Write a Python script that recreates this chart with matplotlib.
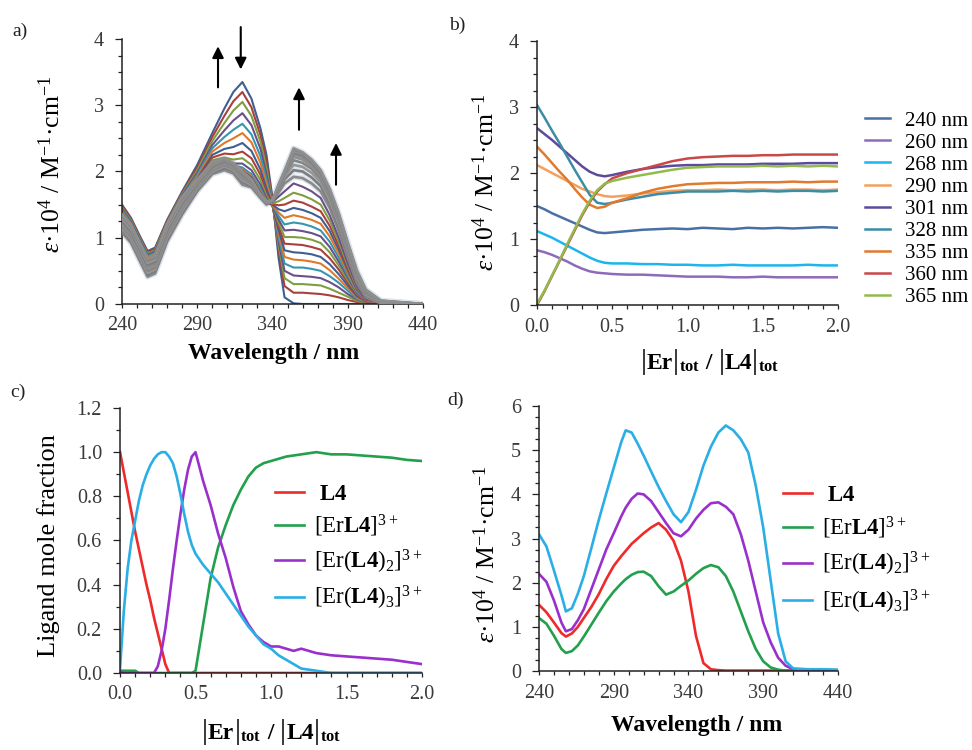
import numpy as np
import matplotlib
matplotlib.use('Agg')
import matplotlib.pyplot as plt
from matplotlib.ticker import MultipleLocator, FormatStrFormatter
from matplotlib.offsetbox import TextArea, HPacker, AnchoredOffsetbox

plt.rcParams['font.family'] = ['Liberation Serif', 'DejaVu Serif']
plt.rcParams['mathtext.fontset'] = 'custom'
plt.rcParams['mathtext.rm'] = 'Liberation Serif'
plt.rcParams['mathtext.it'] = 'Liberation Serif:italic'
plt.rcParams['mathtext.bf'] = 'Liberation Serif:bold'

# ---------------- panel a : titration spectra ----------------
wl_a = [240, 246, 252, 257, 262, 270, 280, 290, 300, 308, 314, 320, 326, 332, 336,
        340, 344, 348, 354, 360, 366, 372, 378, 384, 390, 396, 402, 412, 440]
# rows = wavelengths, columns = successive spectra (first 16 coloured)
eps_a_coloured = [
    [1.50, 1.48, 1.45, 1.43, 1.41, 1.38, 1.36, 1.34, 1.31, 1.29, 1.27, 1.24, 1.22, 1.20, 1.18, 1.16],
    [1.30, 1.28, 1.26, 1.24, 1.22, 1.20, 1.18, 1.16, 1.14, 1.12, 1.10, 1.08, 1.06, 1.04, 1.02, 1.00],
    [1.02, 1.00, 0.98, 0.96, 0.94, 0.92, 0.90, 0.88, 0.86, 0.84, 0.82, 0.80, 0.78, 0.76, 0.74, 0.72],
    [0.80, 0.78, 0.76, 0.74, 0.72, 0.70, 0.68, 0.66, 0.64, 0.62, 0.60, 0.58, 0.56, 0.54, 0.52, 0.50],
    [0.85, 0.83, 0.81, 0.79, 0.77, 0.75, 0.73, 0.71, 0.69, 0.67, 0.65, 0.63, 0.61, 0.59, 0.57, 0.55],
    [1.27, 1.25, 1.23, 1.21, 1.19, 1.17, 1.15, 1.13, 1.11, 1.09, 1.07, 1.05, 1.04, 1.03, 1.02, 1.01],
    [1.70, 1.68, 1.66, 1.64, 1.62, 1.60, 1.58, 1.56, 1.54, 1.52, 1.50, 1.48, 1.46, 1.44, 1.42, 1.40],
    [2.10, 2.06, 2.02, 1.98, 1.95, 1.92, 1.89, 1.86, 1.83, 1.80, 1.78, 1.76, 1.74, 1.72, 1.71, 1.70],
    [2.58, 2.52, 2.46, 2.40, 2.35, 2.30, 2.25, 2.21, 2.17, 2.14, 2.11, 2.09, 2.07, 2.05, 2.04, 2.03],
    [2.95, 2.84, 2.73, 2.62, 2.52, 2.43, 2.34, 2.27, 2.21, 2.17, 2.14, 2.12, 2.11, 2.10, 2.10, 2.10],
    [3.20, 3.06, 2.92, 2.77, 2.63, 2.50, 2.37, 2.26, 2.18, 2.12, 2.09, 2.07, 2.06, 2.06, 2.05, 2.05],
    [3.35, 3.20, 3.05, 2.88, 2.72, 2.58, 2.43, 2.30, 2.20, 2.12, 2.06, 2.03, 2.01, 2.00, 1.99, 1.98],
    [3.10, 2.97, 2.84, 2.70, 2.56, 2.44, 2.31, 2.20, 2.10, 2.02, 1.96, 1.93, 1.91, 1.90, 1.90, 1.90],
    [2.65, 2.55, 2.45, 2.34, 2.23, 2.13, 2.03, 1.95, 1.87, 1.80, 1.74, 1.70, 1.68, 1.67, 1.66, 1.66],
    [2.25, 2.15, 2.05, 1.96, 1.88, 1.81, 1.74, 1.68, 1.63, 1.59, 1.56, 1.54, 1.53, 1.53, 1.53, 1.54],
    [1.60, 1.56, 1.53, 1.51, 1.50, 1.49, 1.48, 1.48, 1.48, 1.48, 1.49, 1.49, 1.50, 1.51, 1.52, 1.54],
    [0.70, 0.82, 0.89, 0.95, 1.01, 1.07, 1.12, 1.18, 1.23, 1.28, 1.33, 1.38, 1.43, 1.49, 1.55, 1.62],
    [0.10, 0.27, 0.39, 0.50, 0.61, 0.71, 0.81, 0.91, 1.01, 1.11, 1.20, 1.30, 1.40, 1.50, 1.60, 1.70],
    [0.01, 0.17, 0.30, 0.43, 0.55, 0.67, 0.78, 0.90, 1.01, 1.12, 1.23, 1.34, 1.45, 1.56, 1.68, 1.82],
    [0.00, 0.17, 0.30, 0.42, 0.55, 0.66, 0.77, 0.89, 1.00, 1.10, 1.21, 1.31, 1.42, 1.53, 1.64, 1.77],
    [0.00, 0.16, 0.29, 0.41, 0.53, 0.64, 0.75, 0.86, 0.97, 1.07, 1.17, 1.27, 1.37, 1.47, 1.58, 1.70],
    [0.00, 0.15, 0.28, 0.39, 0.50, 0.61, 0.71, 0.82, 0.92, 1.02, 1.11, 1.21, 1.30, 1.40, 1.50, 1.60],
    [0.00, 0.13, 0.23, 0.33, 0.42, 0.51, 0.60, 0.69, 0.78, 0.86, 0.94, 1.02, 1.10, 1.18, 1.26, 1.34],
    [0.00, 0.10, 0.17, 0.25, 0.32, 0.38, 0.45, 0.52, 0.58, 0.64, 0.70, 0.76, 0.82, 0.88, 0.94, 1.00],
    [0.00, 0.06, 0.11, 0.15, 0.20, 0.24, 0.28, 0.32, 0.36, 0.40, 0.43, 0.47, 0.51, 0.54, 0.58, 0.62],
    [0.00, 0.03, 0.05, 0.07, 0.08, 0.10, 0.12, 0.14, 0.16, 0.17, 0.19, 0.20, 0.22, 0.24, 0.25, 0.27],
    [0.00, 0.01, 0.01, 0.02, 0.03, 0.03, 0.04, 0.04, 0.05, 0.05, 0.06, 0.06, 0.07, 0.07, 0.08, 0.08],
    [0.00, 0.00, 0.00, 0.00, 0.00, 0.01, 0.01, 0.01, 0.01, 0.01, 0.01, 0.01, 0.02, 0.02, 0.02, 0.02],
    [0.00, 0.00, 0.00, 0.00, 0.00, 0.00, 0.00, 0.00, 0.00, 0.00, 0.00, 0.00, 0.00, 0.00, 0.00, 0.00],
]
# rows = wavelengths, columns = later spectra (grey band)
eps_a_grey = [
    [1.08, 1.11, 1.14, 1.17, 1.20, 1.23, 1.26, 1.29, 1.32, 1.35],
    [0.92, 0.95, 0.98, 1.01, 1.04, 1.07, 1.10, 1.13, 1.16, 1.19],
    [0.64, 0.67, 0.70, 0.73, 0.76, 0.79, 0.82, 0.85, 0.88, 0.91],
    [0.41, 0.44, 0.47, 0.50, 0.53, 0.56, 0.59, 0.62, 0.65, 0.68],
    [0.46, 0.49, 0.52, 0.55, 0.58, 0.61, 0.64, 0.67, 0.70, 0.73],
    [0.94, 0.97, 1.00, 1.03, 1.06, 1.09, 1.12, 1.15, 1.18, 1.21],
    [1.35, 1.38, 1.41, 1.44, 1.47, 1.50, 1.53, 1.56, 1.59, 1.62],
    [1.70, 1.72, 1.74, 1.76, 1.78, 1.80, 1.82, 1.84, 1.86, 1.88],
    [1.96, 1.98, 2.00, 2.02, 2.04, 2.06, 2.08, 2.10, 2.12, 2.14],
    [2.02, 2.05, 2.08, 2.10, 2.12, 2.14, 2.16, 2.18, 2.19, 2.20],
    [1.97, 2.00, 2.02, 2.04, 2.06, 2.08, 2.10, 2.11, 2.12, 2.13],
    [1.80, 1.84, 1.87, 1.90, 1.92, 1.94, 1.96, 1.98, 1.99, 2.00],
    [1.76, 1.78, 1.80, 1.82, 1.83, 1.84, 1.85, 1.86, 1.87, 1.88],
    [1.60, 1.61, 1.62, 1.62, 1.63, 1.63, 1.64, 1.64, 1.65, 1.65],
    [1.50, 1.51, 1.52, 1.52, 1.53, 1.53, 1.54, 1.54, 1.55, 1.55],
    [1.56, 1.56, 1.56, 1.56, 1.56, 1.56, 1.56, 1.56, 1.56, 1.56],
    [1.68, 1.72, 1.74, 1.76, 1.77, 1.78, 1.78, 1.79, 1.79, 1.80],
    [1.82, 1.88, 1.92, 1.95, 1.97, 1.98, 1.99, 2.00, 2.00, 2.01],
    [1.92, 2.02, 2.10, 2.17, 2.22, 2.26, 2.29, 2.31, 2.33, 2.35],
    [1.90, 2.00, 2.07, 2.13, 2.18, 2.22, 2.25, 2.27, 2.28, 2.29],
    [1.82, 1.91, 1.98, 2.04, 2.08, 2.12, 2.14, 2.16, 2.17, 2.18],
    [1.70, 1.78, 1.84, 1.89, 1.93, 1.96, 1.98, 2.00, 2.01, 2.02],
    [1.45, 1.52, 1.57, 1.62, 1.65, 1.68, 1.70, 1.72, 1.73, 1.74],
    [1.10, 1.16, 1.21, 1.25, 1.28, 1.31, 1.33, 1.35, 1.36, 1.37],
    [0.70, 0.75, 0.79, 0.82, 0.85, 0.88, 0.90, 0.91, 0.92, 0.93],
    [0.32, 0.36, 0.39, 0.42, 0.44, 0.46, 0.48, 0.49, 0.50, 0.51],
    [0.10, 0.12, 0.14, 0.16, 0.17, 0.18, 0.19, 0.20, 0.21, 0.22],
    [0.01, 0.02, 0.02, 0.03, 0.03, 0.04, 0.04, 0.04, 0.05, 0.05],
    [0.00, 0.00, 0.00, 0.00, 0.00, 0.00, 0.00, 0.00, 0.00, 0.00],
]

# ---------------- panel b : epsilon vs ratio ----------------
ratio_b = [0, 0.05, 0.1, 0.15, 0.2, 0.25, 0.3, 0.35, 0.4, 0.45, 0.5, 0.6, 0.7,
           0.8, 0.9, 1.0, 1.1, 1.2, 1.3, 1.4, 1.5, 1.6, 1.7, 1.8, 1.9, 2.0]
labels_b = ['240 nm', '260 nm', '268 nm', '290 nm', '301 nm', '328 nm', '335 nm', '360 nm', '365 nm']
eps_240 = [1.50, 1.45, 1.39, 1.34, 1.29, 1.24, 1.19, 1.14, 1.10, 1.09, 1.10, 1.12, 1.14, 1.15, 1.16, 1.15, 1.17, 1.16, 1.15, 1.17, 1.16, 1.17, 1.16, 1.17, 1.18, 1.17]
eps_260 = [0.83, 0.80, 0.76, 0.71, 0.66, 0.60, 0.55, 0.51, 0.49, 0.48, 0.47, 0.46, 0.46, 0.45, 0.44, 0.43, 0.43, 0.43, 0.42, 0.42, 0.43, 0.42, 0.42, 0.42, 0.42, 0.42]
eps_268 = [1.12, 1.07, 1.02, 0.96, 0.90, 0.84, 0.78, 0.72, 0.67, 0.64, 0.63, 0.63, 0.62, 0.62, 0.61, 0.61, 0.60, 0.60, 0.61, 0.60, 0.60, 0.60, 0.60, 0.61, 0.60, 0.60]
eps_290 = [2.12, 2.06, 2.00, 1.94, 1.88, 1.82, 1.76, 1.72, 1.68, 1.65, 1.64, 1.66, 1.69, 1.71, 1.73, 1.74, 1.74, 1.75, 1.74, 1.75, 1.75, 1.74, 1.75, 1.75, 1.74, 1.75]
eps_301 = [2.68, 2.59, 2.50, 2.40, 2.30, 2.20, 2.10, 2.02, 1.97, 1.95, 1.97, 2.02, 2.06, 2.09, 2.11, 2.12, 2.12, 2.13, 2.13, 2.13, 2.14, 2.14, 2.14, 2.15, 2.15, 2.15]
eps_328 = [3.03, 2.84, 2.64, 2.45, 2.25, 2.05, 1.86, 1.67, 1.55, 1.53, 1.55, 1.60, 1.64, 1.68, 1.70, 1.72, 1.72, 1.72, 1.73, 1.72, 1.73, 1.72, 1.73, 1.73, 1.72, 1.73]
eps_335 = [2.40, 2.28, 2.15, 2.02, 1.90, 1.76, 1.63, 1.52, 1.47, 1.49, 1.55, 1.62, 1.70, 1.76, 1.80, 1.83, 1.84, 1.85, 1.85, 1.86, 1.86, 1.86, 1.87, 1.86, 1.87, 1.87]
eps_360 = [0.00, 0.21, 0.44, 0.67, 0.90, 1.13, 1.36, 1.56, 1.72, 1.83, 1.92, 2.00, 2.06, 2.12, 2.18, 2.22, 2.24, 2.25, 2.26, 2.26, 2.27, 2.27, 2.28, 2.28, 2.28, 2.28]
eps_365 = [0.02, 0.22, 0.45, 0.68, 0.92, 1.15, 1.38, 1.58, 1.74, 1.84, 1.88, 1.93, 1.97, 2.01, 2.05, 2.08, 2.09, 2.10, 2.10, 2.10, 2.11, 2.10, 2.11, 2.10, 2.11, 2.10]

# ---------------- panel c : ligand mole fractions ----------------
ratio_c = [0, 0.025, 0.05, 0.075, 0.1, 0.125, 0.15, 0.175, 0.2, 0.225, 0.25, 0.275, 0.3,
           0.325, 0.35, 0.375, 0.4, 0.425, 0.45, 0.475, 0.5, 0.55, 0.6, 0.65, 0.7, 0.75,
           0.8, 0.85, 0.9, 0.95, 1.0, 1.05, 1.1, 1.15, 1.2, 1.3, 1.4, 1.5, 1.6, 1.7, 1.8, 1.9, 2.0]
frac_L4 = [1.00, 0.91, 0.82, 0.73, 0.64, 0.56, 0.48, 0.40, 0.33, 0.25, 0.18, 0.11, 0.04,
           0.00, 0.00, 0.00, 0.00, 0.00, 0.00, 0.00, 0.00, 0.00, 0.00, 0.00, 0.00, 0.00,
           0.00, 0.00, 0.00, 0.00, 0.00, 0.00, 0.00, 0.00, 0.00, 0.00, 0.00, 0.00, 0.00, 0.00, 0.00, 0.00, 0.00]
frac_ErL4 = [0.01, 0.01, 0.01, 0.01, 0.01, 0.00, 0.00, 0.00, 0.00, 0.00, 0.00, 0.00, 0.00,
             0.00, 0.00, 0.00, 0.00, 0.00, 0.00, 0.00, 0.01, 0.22, 0.43, 0.57, 0.67, 0.76,
             0.83, 0.89, 0.93, 0.95, 0.96, 0.97, 0.98, 0.985, 0.99, 1.00, 0.99, 0.99, 0.985, 0.98, 0.975, 0.965, 0.96]
frac_ErL42 = [0.01, 0.00, 0.00, 0.00, 0.00, 0.00, 0.00, 0.00, 0.00, 0.00, 0.03, 0.10, 0.20,
              0.33, 0.47, 0.60, 0.72, 0.83, 0.92, 0.98, 1.00, 0.87, 0.76, 0.63, 0.52, 0.39,
              0.28, 0.22, 0.17, 0.14, 0.12, 0.12, 0.11, 0.10, 0.11, 0.09, 0.08, 0.075, 0.07, 0.065, 0.06, 0.05, 0.04]
frac_ErL43 = [0.02, 0.28, 0.47, 0.60, 0.69, 0.78, 0.85, 0.90, 0.94, 0.97, 0.99, 1.00, 1.00,
              0.98, 0.95, 0.89, 0.81, 0.72, 0.64, 0.58, 0.54, 0.49, 0.45, 0.41, 0.36, 0.31,
              0.26, 0.21, 0.17, 0.13, 0.11, 0.08, 0.06, 0.04, 0.02, 0.01, 0.00, 0.00, 0.00, 0.00, 0.00, 0.00, 0.00]

# ---------------- panel d : species spectra ----------------
wl_d = [240, 245, 250, 255, 258, 262, 266, 270, 275, 280, 285, 290, 295, 298, 302, 306, 310,
        315, 320, 325, 330, 335, 340, 345, 350, 355, 360, 365, 370, 375, 380, 385, 390, 395,
        400, 405, 410, 420, 430, 440]
eps_d_L4 = [1.50, 1.33, 1.10, 0.86, 0.78, 0.85, 1.00, 1.20, 1.45, 1.74, 2.08, 2.38, 2.60, 2.72, 2.88, 3.00, 3.12,
            3.25, 3.35, 3.20, 2.95, 2.50, 1.80, 0.80, 0.18, 0.04, 0.02, 0.01, 0.01, 0.01, 0.01, 0.01, 0.01, 0.01,
            0.01, 0.01, 0.01, 0.00, 0.00, 0.00]
eps_d_ErL4 = [1.20, 1.07, 0.80, 0.50, 0.41, 0.45, 0.58, 0.78, 1.05, 1.32, 1.58, 1.80, 1.98, 2.08, 2.18, 2.24, 2.25,
              2.15, 1.92, 1.73, 1.80, 1.93, 2.05, 2.20, 2.33, 2.40, 2.35, 2.15, 1.80, 1.35, 0.90, 0.50, 0.22, 0.08,
              0.03, 0.01, 0.01, 0.00, 0.00, 0.00]
eps_d_ErL42 = [2.20, 2.02, 1.60, 1.10, 0.90, 0.95, 1.15, 1.40, 1.85, 2.30, 2.75, 3.12, 3.50, 3.70, 3.90, 4.02, 4.00,
               3.85, 3.60, 3.35, 3.12, 3.05, 3.20, 3.45, 3.65, 3.80, 3.82, 3.72, 3.55, 3.10, 2.50, 1.80, 1.10, 0.65,
               0.30, 0.12, 0.04, 0.02, 0.02, 0.02]
eps_d_ErL43 = [3.10, 2.82, 2.28, 1.72, 1.35, 1.42, 1.75, 2.15, 2.78, 3.42, 4.02, 4.60, 5.18, 5.45, 5.40, 5.15, 4.88,
               4.52, 4.17, 3.85, 3.55, 3.37, 3.60, 4.10, 4.65, 5.08, 5.40, 5.56, 5.45, 5.25, 4.95, 4.20, 3.25, 2.05,
               0.85, 0.22, 0.06, 0.04, 0.04, 0.03]
species_labels = [r'$\ \mathbf{L4}$', r'[Er$\mathbf{L4}$]$^{3+}$',
                  r'[Er($\mathbf{L4}$)$_{2}$]$^{3+}$', r'[Er($\mathbf{L4}$)$_{3}$]$^{3+}$']

# ---------------- styling ----------------
coloured_cycle = ['#3F5F92', '#A8403C', '#7F9E40', '#6A4F8C', '#3696B0', '#E0782A']
grey_cycle = ['#8a8a8a', '#7d7d7d', '#969696', '#858585', '#8f8f8f']
colors_b = ['#4A6FA5', '#8E6BB8', '#1CB5EC', '#F5A05A', '#5E4A9C', '#3C8CA5', '#E07A2E', '#C84848', '#92BB4E']
colors_species = ['#EE2A2A', '#22A04C', '#9A30CC', '#2AAEE6']
TICKC = '#3a3a3a'
eps_label = r'$\varepsilon$·10$^{4}$ / M$^{-1}$·cm$^{-1}$'

fig = plt.figure(figsize=(9.72, 7.5), dpi=100)
ax_a = fig.add_axes([0.1255, 0.5947, 0.3097, 0.3533])
ax_b = fig.add_axes([0.5525, 0.5933, 0.3097, 0.3520])
ax_c = fig.add_axes([0.1235, 0.1027, 0.3107, 0.3533])
ax_d = fig.add_axes([0.5545, 0.1053, 0.3076, 0.3533])


def style(ax, xmaj, xmin, ymaj, ymin, xfmt=None, yfmt=None):
    for s in ['top', 'right']:
        ax.spines[s].set_visible(False)
    for s in ['left', 'bottom']:
        ax.spines[s].set_linewidth(1.1)
        ax.spines[s].set_color('#222222')
    if isinstance(xmaj, (list, tuple)):
        ax.set_xticks(xmaj)
    else:
        ax.xaxis.set_major_locator(MultipleLocator(xmaj))
    ax.xaxis.set_minor_locator(MultipleLocator(xmin))
    ax.yaxis.set_major_locator(MultipleLocator(ymaj))
    ax.yaxis.set_minor_locator(MultipleLocator(ymin))
    if xfmt:
        ax.xaxis.set_major_formatter(FormatStrFormatter(xfmt))
    if yfmt:
        ax.yaxis.set_major_formatter(FormatStrFormatter(yfmt))
    ax.tick_params(axis='both', which='both', direction='out', color='#222222',
                   labelcolor=TICKC, labelsize=14.5, width=0.9)
    ax.tick_params(axis='y', which='major', length=5, pad=8)
    ax.tick_params(axis='y', which='minor', length=3)
    ax.tick_params(axis='x', which='both', length=3, pad=6)


def ratio_xlabel(ax, xc, yc):
    bar = dict(fontsize=21, color='black')
    bold = dict(fontsize=17, fontweight='bold', color='black')
    sub = dict(fontsize=17, color='black')
    parts = [TextArea('|', textprops=bar), TextArea('Er', textprops=bold),
             TextArea('|', textprops=bar), TextArea(r'$_{\mathbf{tot}}$', textprops=sub),
             TextArea(' / ', textprops=bold),
             TextArea('|', textprops=bar), TextArea('L4', textprops=bold),
             TextArea('|', textprops=bar), TextArea(r'$_{\mathbf{tot}}$', textprops=sub)]
    pack = HPacker(children=parts, align='baseline', pad=0, sep=0)
    box = AnchoredOffsetbox(loc='center', child=pack, pad=0, frameon=False,
                            bbox_to_anchor=(xc, yc), bbox_transform=ax.transAxes, borderpad=0)
    ax.add_artist(box)


# ---- a
A_col = np.array(eps_a_coloured)
A_grey = np.array(eps_a_grey)
for j in range(A_grey.shape[1]):
    ax_a.plot(wl_a, A_grey[:, j], color='#dce4ee', lw=4.0, zorder=1, solid_joinstyle='round')
for j in range(A_col.shape[1]):
    ax_a.plot(wl_a, A_col[:, j], color=coloured_cycle[j % 6], lw=1.5, zorder=2)
for j in range(A_grey.shape[1]):
    ax_a.plot(wl_a, A_grey[:, j], color=grey_cycle[j % len(grey_cycle)], lw=1.9, zorder=3)
ax_a.set_xlim(240, 440)
ax_a.set_ylim(0, 4)
style(ax_a, [240, 290, 340, 390, 440], 10, 1, 0.25)
arrow_kw = dict(arrowstyle='-|>', color='black', lw=1.5, mutation_scale=17, shrinkA=0, shrinkB=0)
for (xx, y0, y1) in [(303.8, 3.27, 3.89), (318.9, 4.18, 3.54), (357.6, 2.63, 3.27), (382.2, 1.80, 2.43)]:
    ax_a.annotate('', xy=(xx, y1), xytext=(xx, y0), arrowprops=arrow_kw, annotation_clip=False)
ax_a.set_xlabel('Wavelength / nm', fontsize=17, fontweight='bold')
ax_a.xaxis.set_label_coords(0.505, -0.147)
ax_a.set_ylabel(eps_label, fontsize=18.5)
ax_a.yaxis.set_label_coords(-0.189, 0.528)

# ---- b
series_b = [eps_240, eps_260, eps_268, eps_290, eps_301, eps_328, eps_335, eps_360, eps_365]
for vals, c, lab in zip(series_b, colors_b, labels_b):
    ax_b.plot(ratio_b, vals, color=c, lw=1.8, label=lab)
ax_b.set_xlim(0, 2.0)
ax_b.set_ylim(0, 4)
style(ax_b, 0.5, 0.1, 1, 0.25, xfmt='%.1f')
ratio_xlabel(ax_b, 0.575, -0.214)
ax_b.set_ylabel(eps_label, fontsize=18.5)
ax_b.yaxis.set_label_coords(-0.126, 0.466)
ax_b.legend(loc='upper left', bbox_to_anchor=(1.09, 0.735), frameon=False, fontsize=15,
            handlelength=1.2, handletextpad=0.7, labelspacing=0.12, borderpad=0, borderaxespad=0)

# ---- c
for vals, c, lab in zip([frac_L4, frac_ErL4, frac_ErL42, frac_ErL43], colors_species, species_labels):
    ax_c.plot(ratio_c, vals, color=c, lw=1.9, label=lab)
ax_c.set_xlim(0, 2.0)
ax_c.set_ylim(0, 1.2)
style(ax_c, 0.5, 0.1, 0.2, 0.1, xfmt='%.1f', yfmt='%.1f')
ratio_xlabel(ax_c, 0.502, -0.222)
ax_c.set_ylabel('Ligand mole fraction', fontsize=19)
ax_c.yaxis.set_label_coords(-0.199, 0.479)
ax_c.legend(loc='upper left', bbox_to_anchor=(0.513, 0.714), frameon=False, fontsize=16.5,
            handlelength=1.25, handletextpad=0.45, labelspacing=0.36, borderpad=0, borderaxespad=0)

# ---- d
for vals, c, lab in zip([eps_d_L4, eps_d_ErL4, eps_d_ErL42, eps_d_ErL43], colors_species, species_labels):
    ax_d.plot(wl_d, vals, color=c, lw=1.9, label=lab)
ax_d.set_xlim(240, 440)
ax_d.set_ylim(0, 6)
style(ax_d, [240, 290, 340, 390, 440], 10, 1, 0.25)
ax_d.set_xlabel('Wavelength / nm', fontsize=17, fontweight='bold')
ax_d.xaxis.set_label_coords(0.528, -0.166)
ax_d.set_ylabel(eps_label, fontsize=18.5)
ax_d.yaxis.set_label_coords(-0.13, 0.44)
ax_d.legend(loc='upper left', bbox_to_anchor=(0.816, 0.703), frameon=False, fontsize=16.5,
            handlelength=1.25, handletextpad=0.45, labelspacing=0.4, borderpad=0, borderaxespad=0)

# panel letters
for txt, x, y in [('a)', 12, 31), ('b)', 449, 25), ('c)', 10, 392), ('d)', 447, 400)]:
    fig.text(x / 972, 1 - y / 750, txt, fontsize=14, va='center', ha='left', color='#222222')

fig.savefig('out.png', dpi=100)
